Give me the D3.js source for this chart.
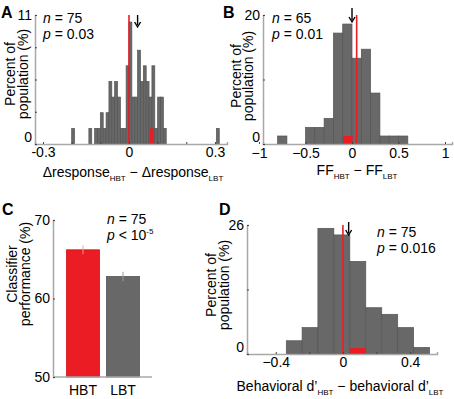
<!DOCTYPE html>
<html><head><meta charset="utf-8">
<script src="https://cdn.jsdelivr.net/npm/d3@7"></script>
<style>
body{margin:0;background:#fff;}
svg{display:block;font-family:"Liberation Sans",Arial,sans-serif;}
</style></head><body>
<svg id="c" width="454" height="399"></svg>
<script>
// ---------- DATA ----------
// Panel A: Δresponse HBT − LBT histogram (bin width 0.01, left edges) in % of population
const aBinEdges = [-0.20,-0.14,-0.12,-0.11,-0.10,-0.09,-0.08,-0.07,-0.06,-0.05,-0.04,-0.03,-0.02,-0.01,0.00,0.01,0.02,0.03,0.04,0.05,0.06,0.07,0.08,0.09,0.10,0.11,0.12,0.305];
const aPct      = [1.33,1.33,1.33,1.33,2.67,1.33,2.67,5.33,4.0,5.33,4.0,1.33,1.33,6.67,10.4,4.0,4.0,8.0,5.33,6.67,5.33,4.0,6.67,1.33,4.0,4.0,1.33,1.33];
const aBinWidth = 0.01;
const aStats = {n:"75", p:"0.03", arrow:0.03, zero:0, ciLo:0.073, ciHi:0.087, ciPct:1.33};
// Panel B: FF HBT − FF LBT histogram
const bBinEdges = [-0.8,-0.5,-0.4,-0.3,-0.2,-0.1,0.0,0.1,0.2,0.3,0.4,0.5];
const bPct      = [1.24,2.58,2.58,3.98,17.2,18.6,13.3,14.7,7.9,1.24,1.24,1.24];
const bBinWidth = 0.1;
const bStats = {n:"65", p:"0.01", arrow:0.0, redLine:0.05, ciLo:-0.095, ciHi:0.007, ciPct:1.24};
// Panel C: classifier performance
const cCategories = ["HBT","LBT"];
const cValues = [66.2, 62.8];
const cErrors = [0.55, 0.6];
// Panel D: behavioral d' HBT − LBT histogram
const dBinEdges = [-0.337,-0.243,-0.149,-0.054,0.041,0.136,0.231,0.326,0.421];
const dPct      = [2.67,5.33,25.33,24.0,18.67,9.33,8.0,5.33,1.33];
const dBinWidth = 0.095;
const dStats = {n:"75", p:"0.016", arrow:0.034, zero:0, ciLo:0.043, ciHi:0.134, ciPct:1.2};

// ---------- DRAW ----------
const svg = d3.select("#c");
const RED = "#ec1c24", GRAY = "#686868", AX = "#a8a8a8";
const FS = 14;

function letter(x,y,t){ svg.append("text").attr("x",x).attr("y",y).attr("font-size",16).attr("font-weight","bold").text(t); }

function yTitle(cy,l1,l2,b1,b2){
  svg.append("text").attr("transform",`translate(${b1},${cy}) rotate(-90)`).attr("text-anchor","middle").attr("font-size",FS).text(l1);
  svg.append("text").attr("transform",`translate(${b2},${cy}) rotate(-90)`).attr("text-anchor","middle").attr("font-size",FS).text(l2);
}

function stats(x,y,s){
  const t1 = svg.append("text").attr("x",x).attr("y",y).attr("font-size",FS);
  t1.append("tspan").attr("font-style","italic").text("n");
  t1.append("tspan").text(" = "+s.n);
  const t2 = svg.append("text").attr("x",x).attr("y",y+16).attr("font-size",FS);
  t2.append("tspan").attr("font-style","italic").text("p");
  t2.append("tspan").text(" = "+s.p);
}

function arrow(x,y1,y2){
  svg.append("line").attr("x1",x).attr("x2",x).attr("y1",y1).attr("y2",y2-2).attr("stroke","#000").attr("stroke-width",1.4);
  svg.append("path").attr("d",`M${x-3},${y2-5}L${x},${y2}L${x+3},${y2-5}`).attr("fill","none").attr("stroke","#000").attr("stroke-width",1.4);
}

function styleAxis(g){
  g.select(".domain").attr("stroke",AX).attr("stroke-width",1.5);
  g.selectAll(".tick line").attr("stroke","#444").attr("stroke-width",1);
  g.selectAll(".tick text").attr("font-size",FS).attr("fill","#000").attr("font-family","Liberation Sans, Arial, sans-serif");
}

function histPanel(o){
  const x = d3.scaleLinear().domain(o.xDomain).range([o.x0,o.x1]);
  const y = d3.scaleLinear().domain([0,o.yMax]).range([o.y0,o.y1]);
  const g = svg.append("g");
  g.selectAll("rect.bar").data(o.edges.map((e,i)=>({e,v:o.pct[i]}))).join("rect")
    .attr("x",d=>x(d.e)).attr("width",d=>x(d.e+o.bw)-x(d.e))
    .attr("y",d=>y(d.v)).attr("height",d=>y(0)-y(d.v))
    .attr("fill",GRAY).attr("stroke","#555").attr("stroke-width",0.7);
  g.append("rect").attr("x",x(o.s.ciLo)).attr("width",x(o.s.ciHi)-x(o.s.ciLo))
    .attr("y",y(o.s.ciPct)).attr("height",y(0)-y(o.s.ciPct)).attr("fill",RED);
  g.append("line").attr("x1",x(o.redX)).attr("x2",x(o.redX)).attr("y1",y(o.yMax)).attr("y2",y(0))
    .attr("stroke",RED).attr("stroke-width",1.6);
  const xa = svg.append("g").attr("transform",`translate(0,${o.y0})`)
    .call(d3.axisBottom(x).tickValues(o.xTicks).tickSize(-2).tickPadding(o.xPad||3)
      .tickFormat(d=>o.xLabels.includes(d)? o.fmt(d):""));
  styleAxis(xa);
  const ya = svg.append("g").attr("transform",`translate(${o.x0},0)`)
    .call(d3.axisLeft(y).tickValues(o.yTicks).tickSize(-2).tickPadding(3)
      .tickFormat(d=>(d===0||d===o.yMax)? d : ""));
  styleAxis(ya);
  ya.selectAll(".tick text").attr("dy",d=>d===0?"-0.2em":"0.35em");
  arrow(x(o.s.arrow),o.arrowY1,o.arrowY2);
  return {x,y};
}

const minusFmt = d=> d===0 ? "0" : (d<0? "\u2212"+Math.abs(d) : String(d));

// Panel A
letter(1,18,"A");
histPanel({xDomain:[-0.328,0.342],x0:35,x1:227,y0:144,y1:15,yMax:11,edges:aBinEdges,pct:aPct,bw:aBinWidth,s:aStats,
  redX:aStats.zero,xTicks:[-0.3,-0.2,-0.1,0,0.1,0.2,0.3],xLabels:[-0.3,0,0.3],fmt:d=>d===0?"0":String(d),
  yTicks:[0,2.75,5.5,8.25,11],arrowY1:15,arrowY2:27});
stats(43,23,aStats);
yTitle(74,"Percent of","population (%)",15,28);
{
  const t = svg.append("text").attr("x",133).attr("y",177).attr("text-anchor","middle").attr("font-size",FS);
  t.append("tspan").text("\u0394response");
  t.append("tspan").attr("font-size",8).attr("dy",4).text("HBT");
  t.append("tspan").attr("dy",-4).text(" \u2212 \u0394response");
  t.append("tspan").attr("font-size",8).attr("dy",4).text("LBT");
}

// Panel B
letter(223,18,"B");
histPanel({xDomain:[-0.957,1.075],x0:263,x1:452,y0:144,y1:15,yMax:20,edges:bBinEdges,pct:bPct,bw:bBinWidth,s:bStats,
  redX:bStats.redLine,xTicks:[-1,-0.5,0,0.5,1],xLabels:[-1,-0.5,0,0.5,1],fmt:minusFmt,xPad:4,
  yTicks:[0,10,20],arrowY1:8,arrowY2:22});
stats(272,23,bStats);
yTitle(76,"Percent of","population (%)",241,253);
{
  const t = svg.append("text").attr("x",357).attr("y",175).attr("text-anchor","middle").attr("font-size",FS);
  t.append("tspan").text("FF");
  t.append("tspan").attr("font-size",8).attr("dy",4).text("HBT");
  t.append("tspan").attr("dy",-4).text(" \u2212 FF");
  t.append("tspan").attr("font-size",8).attr("dy",4).text("LBT");
}

// Panel C
letter(2,215,"C");
{
  const x = d3.scaleBand().domain(cCategories).range([66.5,139.5]).paddingInner(0.175).paddingOuter(0);
  const y = d3.scaleLinear().domain([50,70]).range([377,220]);
  const colors = [RED,GRAY], strokes=["#d01018","#555"], errC=["#f59a9a","#999"];
  svg.selectAll("rect.cbar").data(cCategories).join("rect")
    .attr("x",d=>x(d)).attr("width",x.bandwidth())
    .attr("y",(d,i)=>y(cValues[i])).attr("height",(d,i)=>y(50)-y(cValues[i]))
    .attr("fill",(d,i)=>colors[i]).attr("stroke",(d,i)=>strokes[i]).attr("stroke-width",0.8);
  svg.selectAll("line.err").data(cCategories).join("line")
    .attr("x1",d=>x(d)+x.bandwidth()/2).attr("x2",d=>x(d)+x.bandwidth()/2)
    .attr("y1",(d,i)=>y(cValues[i]+cErrors[i])).attr("y2",(d,i)=>y(cValues[i]-cErrors[i]))
    .attr("stroke",(d,i)=>errC[i]).attr("stroke-width",1);
  const xa = svg.append("g").attr("transform","translate(0,377)").call(d3.axisBottom(x).tickSize(0).tickPadding(8));
  styleAxis(xa);
  xa.select(".domain").attr("d","M53,0H152");
  const ya = svg.append("g").attr("transform","translate(53,0)").call(d3.axisLeft(y).tickValues([50,60,70]).tickSize(-2).tickPadding(3));
  styleAxis(ya);
  const t1 = svg.append("text").attr("x",107).attr("y",224).attr("font-size",FS);
  t1.append("tspan").attr("font-style","italic").text("n"); t1.append("tspan").text(" = 75");
  const t2 = svg.append("text").attr("x",107).attr("y",240).attr("font-size",FS);
  t2.append("tspan").attr("font-style","italic").text("p"); t2.append("tspan").text(" < 10");
  t2.append("tspan").attr("font-size",8).attr("dy",-6).text("-5");
  yTitle(274,"Classifier","performance (%)",17,30);
}

// Panel D
letter(219,215,"D");
histPanel({xDomain:[-0.571,0.560],x0:247,x1:437,y0:354,y1:225,yMax:26,edges:dBinEdges,pct:dPct,bw:dBinWidth,s:dStats,
  redX:dStats.zero,xTicks:[-0.4,-0.2,0,0.2,0.4],xLabels:[-0.4,0,0.4],fmt:minusFmt,
  yTicks:[0,13,26],arrowY1:222,arrowY2:235});
{
  const t1 = svg.append("text").attr("x",377).attr("y",237).attr("font-size",FS);
  t1.append("tspan").attr("font-style","italic").text("n"); t1.append("tspan").text(" = "+dStats.n);
  const t2 = svg.append("text").attr("x",377).attr("y",253).attr("font-size",FS);
  t2.append("tspan").attr("font-style","italic").text("p"); t2.append("tspan").text(" = "+dStats.p);
}
yTitle(285,"Percent of","population (%)",216,229);
{
  const t = svg.append("text").attr("x",340).attr("y",391).attr("text-anchor","middle").attr("font-size",FS);
  t.append("tspan").text("Behavioral d\u2019");
  t.append("tspan").attr("font-size",8).attr("dy",4).text("HBT");
  t.append("tspan").attr("dy",-4).text(" \u2212 behavioral d\u2019");
  t.append("tspan").attr("font-size",8).attr("dy",4).text("LBT");
}
</script>
</body></html>
